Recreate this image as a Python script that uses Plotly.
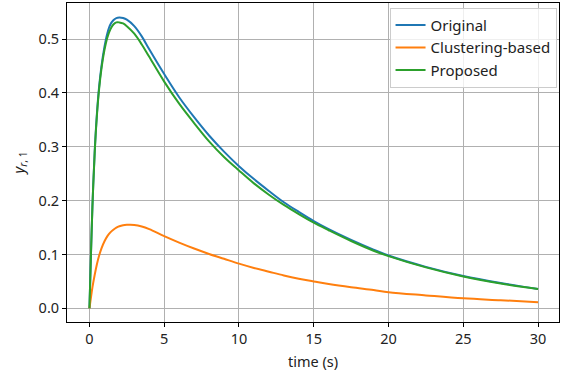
import plotly.graph_objects as go

time = [0, 0.1, 0.2, 0.35, 0.5, 0.65, 0.8, 1.0, 1.2, 1.4, 1.6, 1.8, 2.0, 2.25, 2.5,
        3.0, 3.5, 4.0, 5.0, 6.0, 7.0, 8.0, 9.0, 10, 11, 12, 13, 14, 15, 16, 17.5,
        19, 20, 22.5, 25, 27.5, 30]

original = [0, 0.098, 0.189, 0.290, 0.361, 0.412, 0.449, 0.485, 0.511, 0.527, 0.535,
            0.539, 0.540, 0.539, 0.536, 0.524, 0.505, 0.481, 0.435, 0.392, 0.355,
            0.321, 0.291, 0.264, 0.240, 0.218, 0.197, 0.179, 0.162, 0.147, 0.127,
            0.109, 0.098, 0.077, 0.060, 0.047, 0.036]

clustering = [0, 0.020, 0.039, 0.062, 0.082, 0.098, 0.111, 0.124, 0.134, 0.141, 0.146,
              0.150, 0.1525, 0.1543, 0.155, 0.1548, 0.152, 0.147, 0.134, 0.122, 0.111,
              0.101, 0.092, 0.083, 0.075, 0.068, 0.061, 0.055, 0.050, 0.045, 0.039,
              0.034, 0.030, 0.024, 0.0185, 0.015, 0.0115]

proposed = [0, 0.098, 0.188, 0.288, 0.358, 0.408, 0.444, 0.479, 0.503, 0.518, 0.527,
            0.531, 0.531, 0.529, 0.524, 0.510, 0.490, 0.467, 0.421, 0.380, 0.344,
            0.310, 0.281, 0.256, 0.232, 0.211, 0.192, 0.175, 0.159, 0.145, 0.125,
            0.107, 0.097, 0.076, 0.059, 0.046, 0.036]

names = ["Original", "Clustering-based", "Proposed"]
colors = ["#1f77b4", "#ff7f0e", "#2ca02c"]
x_ticks = [0, 5, 10, 15, 20, 25, 30]
y_ticks = [0.0, 0.1, 0.2, 0.3, 0.4, 0.5]

FONT = "Noto Sans, DejaVu Sans, sans-serif"
FS = 14.5

fig = go.Figure()
for name, ys, c in zip(names, [original, clustering, proposed], colors):
    fig.add_trace(go.Scatter(x=time, y=ys, mode="lines", name=name,
                             line=dict(color=c, width=2, shape="spline", smoothing=1.0)))

axis_common = dict(showline=True, mirror=True, linecolor="black", linewidth=1,
                   ticks="outside", ticklen=4, tickcolor="black", tickwidth=1,
                   showgrid=True, gridcolor="#b0b0b0", gridwidth=0.8, zeroline=False,
                   automargin=False, tickfont=dict(size=FS, color="#222"))

fig.update_xaxes(range=[-1.5, 31.4], tickvals=x_ticks,
                 title=dict(text="time (s)", font=dict(size=FS, color="#222"), standoff=9),
                 **axis_common)
fig.update_yaxes(range=[-0.0254, 0.567], tickvals=y_ticks, tickformat=".1f",
                 title=dict(text="<i>y</i><sub><i>r</i>, 1</sub>", font=dict(size=FS, color="#222"), standoff=10),
                 **axis_common)

fig.update_layout(
    width=571, height=376,
    margin=dict(l=67, r=12, t=3, b=54),
    paper_bgcolor="white", plot_bgcolor="white",
    font=dict(family=FONT, size=FS, color="#222"),
    showlegend=True,
    legend=dict(x=0.995, y=0.985, xanchor="right", yanchor="top",
                bgcolor="rgba(255,255,255,0.8)", bordercolor="#cccccc", borderwidth=1,
                font=dict(size=15), tracegroupgap=0, itemwidth=30),
)

fig.write_html("out.html", config={"displayModeBar": False},
               post_script="document.body.style.margin='0';")
